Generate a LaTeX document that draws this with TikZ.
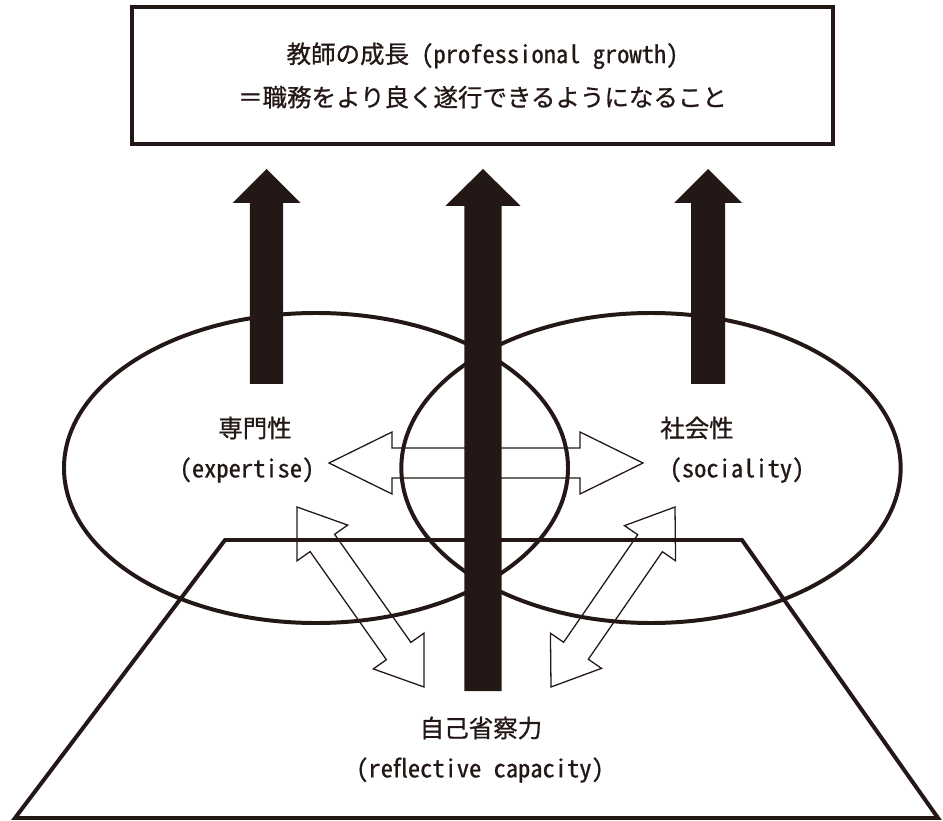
\documentclass[tikz,border=0pt]{standalone}
\usepackage{fontspec}
\setmainfont{Noto Sans CJK JP}[FakeBold=0.8]
\newfontfamily\halfw[RawFeature=+hwid, FakeBold=0.8]{Noto Sans CJK JP}
\usetikzlibrary{calc}
\definecolor{ink}{HTML}{231815}
\newcommand\headhalf{0.93cm}
\newcommand\shafthalf{0.45cm}
% hollow double arrow from tip #1 to tip #2, head length #3
\newcommand\hollowarrow[3]{%
  \draw[hollow] (#1) -- ($(#1)!#3!(#2)!\headhalf!90:(#2)$) -- ($(#1)!#3!(#2)!\shafthalf!90:(#2)$)
    -- ($(#2)!#3!(#1)!\shafthalf!-90:(#1)$) -- ($(#2)!#3!(#1)!\headhalf!-90:(#1)$) -- (#2)
    -- ($(#2)!#3!(#1)!\headhalf!90:(#1)$) -- ($(#2)!#3!(#1)!\shafthalf!90:(#1)$)
    -- ($(#1)!#3!(#2)!\shafthalf!-90:(#2)$) -- ($(#1)!#3!(#2)!\headhalf!-90:(#2)$) -- cycle;}
% black arrow: x, tip y, head base y, head half, shaft half, bottom y
\newcommand\bigarrow[6]{%
  \fill[ink] (#1,#2) -- (#1+#4,#3) -- (#1+#5,#3) -- (#1+#5,#6) -- (#1-#5,#6)
    -- (#1-#5,#3) -- (#1-#4,#3) -- cycle;}
\tikzset{
  label/.style={text=ink, inner sep=0pt, font=\fontsize{20.9pt}{25pt}\selectfont},
  thickline/.style={draw=ink, line width=3.4pt},
  hollow/.style={draw=ink, line width=1.1pt, line join=miter}
}
\begin{document}
\begin{tikzpicture}[x=0.03cm, y=-0.03cm]
\useasboundingbox (0,0) rectangle (943,821);
\node[thickline, label, minimum width=21cm, minimum height=4.11cm, align=center,
  font=\fontsize{20.9pt}{37pt}\selectfont] (growth) at (482.5,75.5)
  {教師の成長{\halfw\ (professional growth)}\\＝職務をより良く遂行できるようになること};
% circles and base
\draw[thickline] (316,468) ellipse [x radius=7.56cm, y radius=4.65cm];
\draw[thickline] (651,468) ellipse [x radius=7.49cm, y radius=4.65cm];
\draw[thickline, line join=miter] (15,818) -- (225,540) -- (742,540) -- (938,818) -- cycle;
% labels
\node[label] (expert) at (255,428) {専門性};
\node[label] (expertEn) at (247,470) {\halfw (expertise)};
\node[label] (social) at (697,428) {社会性};
\node[label] (socialEn) at (737,470) {\halfw (sociality)};
\node[label] (reflect) at (481,728) {自己省察力};
\node[label] (reflectEn) at (480,770) {\halfw (reflective capacity)};
% hollow arrows
\coordinate (hl) at (329,463);
\coordinate (hr) at (643,463);
\coordinate (ltop) at (297,507);
\coordinate (lbot) at (424,687);
\coordinate (rtop) at (675,507);
\coordinate (rbot) at (551,687);
\hollowarrow{hl}{hr}{1.89cm}
\hollowarrow{ltop}{lbot}{1.32cm}
\hollowarrow{rtop}{rbot}{1.32cm}
% growth arrows
\bigarrow{266.5}{169}{203}{34}{16.7}{384}
\bigarrow{483}{169}{206}{37.7}{18.7}{691}
\bigarrow{708}{169}{203}{34}{17}{384}
\end{tikzpicture}
\end{document}
